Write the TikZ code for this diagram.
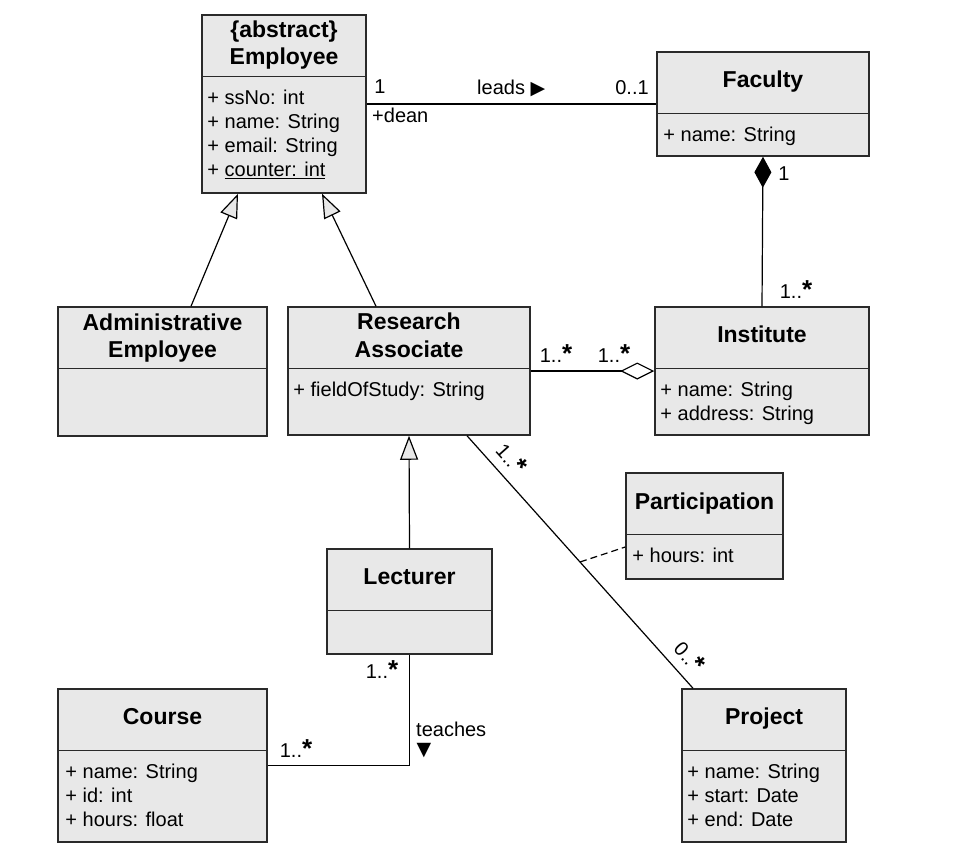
\documentclass[tikz,border=0pt]{standalone}
\usepackage{fontspec}
\setmainfont{Liberation Sans}
\newfontfamily\symfont{DejaVu Sans}
\usetikzlibrary{arrows.meta, calc}
\definecolor{clsfill}{HTML}{E8E8E8}
\definecolor{clsline}{HTML}{2A2A2A}
\newcommand{\many}{{\fontsize{26}{26}\selectfont\bfseries *}}

\begin{document}
\begin{tikzpicture}[x=1pt, y=-1pt,
      cls/.style={draw=clsline, line width=1.5pt, fill=clsfill, inner sep=0pt},
      div/.style={draw=clsline, line width=1.5pt},
      ttl/.style={font=\fontsize{23}{27}\selectfont\bfseries, anchor=base, inner sep=0pt},
      attr/.style={font=\fontsize{20}{24}\selectfont, anchor=base west, inner sep=0pt},
      lbl/.style={font=\fontsize{20}{24}\selectfont, inner sep=0pt},
      assoc/.style={line width=1.2pt},
      gen/.style={assoc, -{Triangle[open, fill=clsfill, length=24pt, width=18pt]}}]
    \fill[white] (0,0) rectangle (953,863);
    \useasboundingbox (0,0) rectangle (953,863);

    % classes
    \node[cls, minimum width=164pt, minimum height=178pt] (emp) at (284, 104) {};
    \node[cls, minimum width=212pt, minimum height=104pt] (fac) at (763, 104) {};
    \node[cls, minimum width=209pt, minimum height=129pt] (adm) at (162.5, 371.5) {};
    \node[cls, minimum width=242pt, minimum height=128pt] (ra) at (409, 371) {};
    \node[cls, minimum width=214pt, minimum height=128pt] (inst) at (762, 371) {};
    \node[cls, minimum width=157pt, minimum height=106pt] (par) at (704.5, 526) {};
    \node[cls, minimum width=165pt, minimum height=105pt] (lec) at (409.5, 601.5) {};
    \node[cls, minimum width=209pt, minimum height=153pt] (crs) at (162.5, 765.5) {};
    \node[cls, minimum width=164pt, minimum height=153pt] (pro) at (764, 765.5) {};
    \foreach \c in {emp, fac, adm, ra, inst, par, lec, crs, pro}
      \draw[div] ($(\c.north west)+(0,62)$) -- ($(\c.north east)+(0,62)$);

    % names
    \node[ttl] (emp-t1) at ($(emp.north)+(0,23)$) {\{abstract\}};
    \node[ttl] (emp-t2) at ($(emp.north)+(0,50)$) {Employee};
    \node[ttl] (fac-t) at ($(fac.north)+(0,36)$) {Faculty};
    \node[ttl] (adm-t1) at ($(adm.north)+(0,24)$) {Administrative};
    \node[ttl] (adm-t2) at ($(adm.north)+(0,51)$) {Employee};
    \node[ttl] (ra-t1) at ($(ra.north)+(0,23)$) {Research};
    \node[ttl] (ra-t2) at ($(ra.north)+(0,51)$) {Associate};
    \node[ttl] (inst-t) at ($(inst.north)+(0,36)$) {Institute};
    \node[ttl] (par-t) at ($(par.north)+(0,37)$) {Participation};
    \node[ttl] (lec-t) at ($(lec.north)+(0,36)$) {Lecturer};
    \node[ttl] (crs-t) at ($(crs.north)+(0,36)$) {Course};
    \node[ttl] (pro-t) at ($(pro.north)+(0,36)$) {Project};

    % attributes
    \foreach \t [count=\i] in {+ ssNo: int, + name: String, + email: String, + \underline{counter: int}}
      \node[attr] (emp-a\i) at ($(emp.north west)+(6,66+24*\i)$) {\t};
    \node[attr] (fac-a1) at ($(fac.north west)+(7,90)$) {+ name: String};
    \node[attr] (ra-a1) at ($(ra.north west)+(6,90)$) {+ fieldOfStudy: String};
    \foreach \t [count=\i] in {+ name: String, + address: String}
      \node[attr] (inst-a\i) at ($(inst.north west)+(6,66+24*\i)$) {\t};
    \node[attr] (par-a1) at ($(par.north west)+(7,90)$) {+ hours: int};
    \foreach \t [count=\i] in {+ name: String, + id: int, + hours: float}
      \node[attr] (crs-a\i) at ($(crs.north west)+(8,66+24*\i)$) {\t};
    \foreach \t [count=\i] in {+ name: String, + start: Date, + end: Date}
      \node[attr] (pro-a\i) at ($(pro.north west)+(6,66+24*\i)$) {\t};

    % relations
    \draw[assoc] (emp.east) -- (fac.west);
    \draw[assoc, {Diamond[length=31pt, width=17pt]}-] (fac.south) -- (inst.north);
    \draw[assoc, -{Diamond[open, fill=white, length=34pt, width=17pt]}] (ra.east) -- (inst.west);
    \draw[gen] ($(adm.north)+(28.5,0)$) -- ($(emp.south)+(-46,0)$);
    \draw[gen] ($(ra.north)+(-33,0)$) -- ($(emp.south)+(38,0)$);
    \draw[gen] (lec.north) -- (ra.south);
    \draw[assoc] (lec.south) |- (crs.east);
    \draw[assoc] ($(ra.south)+(58,0)$) -- coordinate[pos=0.5] (rp-mid) ($(pro.north)+(-71,0)$);
    \draw[assoc, dash pattern=on 7pt off 4pt] (rp-mid) -- ($(par.west)+(0,21)$);

    % labels
    \node[lbl, anchor=base] (l-one) at (380, 93.5) {1};
    \node[lbl, anchor=base west] (l-dean) at (372, 122) {+dean};
    \node[lbl, anchor=base west] (l-leads) at (477, 94) {leads {\symfont\fontsize{19}{19}\selectfont ▶}};
    \node[lbl, anchor=base] (l-zo) at (632, 94) {0..1};
    \node[lbl, anchor=base] (l-fone) at (784, 180) {1};
    \node[lbl, anchor=base] (l-fin) at (796, 298) {1..\many};
    \node[lbl, anchor=base] (l-rain) at (556, 362) {1..\many};
    \node[lbl, anchor=base] (l-inra) at (614, 362) {1..\many};
    \node[lbl, anchor=base] (l-lec) at (382, 678) {1..\many};
    \node[lbl, anchor=base] (l-crs) at (296, 757) {1..\many};
    \node[lbl, anchor=base west] (l-teach) at (416, 736) {teaches};
    \node[lbl] (l-down) at (424, 751) {\symfont\fontsize{19}{19}\selectfont ▼};
    \node[lbl, rotate=-48.3] (l-rp) at (512, 458) {1..\many};
    \node[lbl, rotate=-48.3] (l-pr) at (690, 656) {0..\many};
  \end{tikzpicture}
\end{document}
